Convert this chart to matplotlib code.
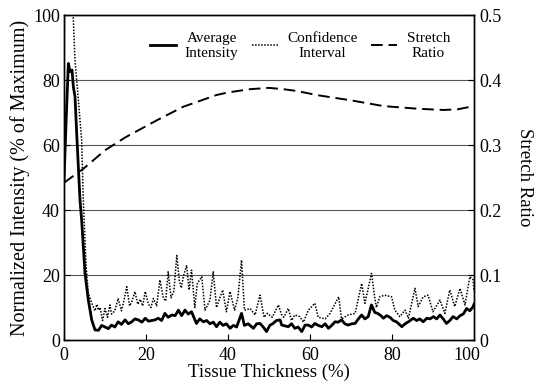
import matplotlib
matplotlib.use("Agg")
import matplotlib.pyplot as plt
import matplotlib.transforms as mtransforms

plt.rcParams['font.family'] = ['Liberation Serif', 'DejaVu Serif']

# Average intensity (% of maximum) vs tissue thickness (%)
avg_x = [0, 0.49, 1.06, 1.46, 1.95, 2.28, 2.68, 3.09, 3.9, 4.3, 5.12, 5.93, 6.75, 7.56,
         8.4, 9.2, 10.0, 10.8, 11.6, 12.4, 13.2, 14.0, 14.9, 15.7, 16.5, 17.3, 18.1, 19.0,
         19.8, 20.6, 21.4, 22.2, 23.0, 23.8, 24.6, 25.4, 26.3, 27.1, 27.9, 28.7, 29.5, 30.3,
         31.1, 32.3, 33.1, 34.0, 34.8, 35.6, 36.4, 37.2, 38.0, 38.8, 39.6, 40.5, 41.3, 42.1,
         43.3, 44.0, 44.9, 46.2, 47.0, 47.8, 48.6, 49.4, 50.2, 51.0, 51.8, 52.7, 53.1, 54.7,
         55.5, 56.3, 57.1, 58.0, 58.8, 59.6, 60.4, 61.2, 62.0, 62.9, 63.7, 64.5, 65.3, 66.1,
         66.9, 67.7, 68.5, 69.3, 70.2, 71.0, 71.8, 72.6, 73.4, 74.2, 75.0, 75.8, 76.5, 77.3,
         77.9, 78.7, 79.5, 80.3, 81.1, 82.4, 83.2, 84.0, 85.2, 86.0, 86.8, 87.6, 88.5, 89.3,
         90.1, 90.9, 91.7, 92.5, 93.3, 94.1, 94.9, 95.8, 96.6, 97.4, 98.2, 99.0, 99.8, 100]
avg_y = [49, 66.7, 85.1, 82.6, 83.1, 77.9, 74.9, 63.6, 43, 36.9, 20.5, 12.3, 6.2, 3.1,
         3, 4.5, 4, 3.5, 4.6, 4, 5.6, 4.8, 6.2, 5, 5.6, 6.5, 6.2, 5.5,
         6.7, 5.8, 6, 6.2, 6.7, 6, 8.2, 7, 7.7, 7.5, 9.2, 7.5, 9.2, 8,
         8.7, 5.1, 6.5, 5.6, 6, 5, 5.5, 4.1, 5.5, 4.5, 5, 3.6, 4.5, 4,
         8.2, 4.5, 5, 3.6, 5, 5.1, 4, 2.6, 4.5, 5.1, 6, 6.2, 4.6, 4.1,
         5, 3.6, 4, 2.6, 4.6, 4.6, 4, 5.1, 4.5, 4.1, 5, 3.6, 4.5, 5.6,
         5.5, 6.2, 5, 4.6, 5, 5.1, 6.5, 7.7, 6.5, 7.2, 10.8, 8.5, 8.2, 7.5,
         6.7, 7.5, 7, 6, 5.6, 4.1, 5, 5.6, 6.7, 6, 6.5, 5.6, 6.7, 6.5,
         7.2, 6.5, 7.7, 6.5, 5.1, 6, 7.2, 6.5, 7.5, 8, 9.7, 9, 10.3, 11]

# Upper confidence interval
ci_x = [0, 0.16, 0.8, 1.4, 1.9, 2.28, 2.68, 3.5, 4.3, 4.7, 5.4, 5.93, 6.75, 7.56,
        8.0, 8.4, 8.8, 9.4, 10.0, 10.6, 11.2, 11.6, 12.4, 13.2, 14.0, 14.6, 15.3, 16.0,
        16.6, 17.3, 18.0, 18.6, 19.2, 19.8, 20.6, 21.2, 21.8, 22.6, 23.4, 24.2, 24.8, 25.4,
        26.1, 26.8, 27.5, 28.1, 28.6, 29.1, 29.9, 30.5, 31.1, 31.9, 32.5, 33.6, 34.4, 35.6,
        36.4, 37.2, 38.7, 39.6, 40.5, 41.6, 42.4, 43.3, 44.0, 45.4, 46.6, 47.8, 48.8, 49.6,
        50.8, 52.3, 53.0, 53.6, 54.7, 55.5, 56.3, 57.5, 58.4, 59.6, 61.2, 62.0, 63.7, 64.9,
        67.0, 67.7, 69.3, 71.0, 72.6, 73.4, 75.0, 75.8, 76.2, 77.0, 78.2, 79.9, 80.7, 81.9,
        83.2, 84.0, 85.6, 86.4, 87.6, 88.8, 90.0, 91.7, 92.9, 94.1, 95.3, 96.6, 97.8, 99.0,
        99.8, 100]
ci_y = [78, 104, 125, 118, 106, 98.5, 86, 73.9, 61.5, 43, 22.5, 14.4, 11.4, 9,
        11, 9.2, 10, 6, 9.7, 7, 10.8, 8, 9, 12.8, 9, 12, 16.4, 10.5,
        12, 14.9, 11, 12.5, 10.5, 14.9, 11, 10, 12.8, 10.5, 18.5, 13, 12, 21,
        13, 15, 26, 18.5, 16, 19.5, 23, 15.4, 21.5, 10, 17.4, 19.5, 9.2, 12.3,
        21, 10, 15.4, 8.7, 14.9, 9.2, 13, 24.6, 9.2, 9.7, 7.7, 13.8, 7, 8.2,
        7, 10.8, 8, 7, 9.7, 6, 7.7, 7.2, 5.5, 9.2, 11.3, 7, 6.5, 8.2,
        13.3, 6.5, 7.7, 8.2, 17.4, 11.3, 20.5, 13, 10, 13.3, 13.8, 13.3, 9.2, 7.2,
        9.2, 6.7, 15.9, 10.3, 13.3, 13.8, 8.7, 12.3, 8.2, 15.4, 10.3, 15.9, 10.8, 19.5,
        18.5, 15]

# Stretch ratio (right axis)
sr_x = [0, 5, 10, 15, 22.6, 29.1, 37.2, 40, 45.4, 50, 53.5, 57, 61.6, 69.8, 77.9, 86, 92.5, 96, 100]
sr_y = [0.242, 0.265, 0.292, 0.312, 0.338, 0.359, 0.377, 0.381, 0.386, 0.388, 0.386, 0.383,
        0.377, 0.369, 0.36, 0.356, 0.354, 0.355, 0.36]

fig = plt.figure(figsize=(5.38, 3.87), dpi=100)
ax = fig.add_axes([0.119, 0.1214, 0.762, 0.8396])
ax2 = ax.twinx()

for y in [20, 40, 60, 80]:
    ax.axhline(y, color='#555555', lw=0.8, zorder=0)

l1, = ax.plot(avg_x, avg_y, color='black', lw=2.0)
l2, = ax.plot(ci_x, ci_y, color='black', lw=1.1, linestyle=(0, (1, 1)))
l3, = ax2.plot(sr_x, sr_y, color='black', lw=1.4, linestyle=(0, (6, 3)))

ax.set_xlim(0, 100)
ax.set_ylim(0, 100)
ax2.set_ylim(0, 0.5)
ax.set_xticks([0, 20, 40, 60, 80, 100])
ax.set_yticks([0, 20, 40, 60, 80, 100])
ax2.set_yticks([0, 0.1, 0.2, 0.3, 0.4, 0.5])
ax2.set_yticklabels(['0', '0.1', '0.2', '0.3', '0.4', '0.5'])

for a in (ax, ax2):
    a.tick_params(direction='in', labelsize=13, length=4, width=0.8, pad=3)
    for s in a.spines.values():
        s.set_linewidth(1.0)
ax.tick_params(axis='x', pad=5)
ax2.tick_params(axis='y', pad=4)

# last x label sits a little left, clear of the right-axis "0"
shift = mtransforms.ScaledTranslation(-7 / 100, 0, fig.dpi_scale_trans)
lab = ax.get_xticklabels()[-1]
lab.set_transform(lab.get_transform() + shift)

ax.set_xlabel('Tissue Thickness (%)', fontsize=13.5, labelpad=0)
ax.set_ylabel('Normalized Intensity (% of Maximum)', fontsize=14.5, labelpad=2)
ax2.set_ylabel('Stretch Ratio', fontsize=13.5, labelpad=10, rotation=-90, va='bottom')

leg = ax.legend([l1, l2, l3], ['Average\nIntensity', 'Confidence\nInterval', 'Stretch\nRatio'],
                loc='upper right', bbox_to_anchor=(0.975, 0.99), ncol=3, frameon=False,
                fontsize=11, handlelength=1.7, columnspacing=0.9, handletextpad=0.6)
for t in leg.get_texts():
    t.set_multialignment('center')
    t.set_linespacing(1.15)

fig.savefig('out.png', dpi=100)
